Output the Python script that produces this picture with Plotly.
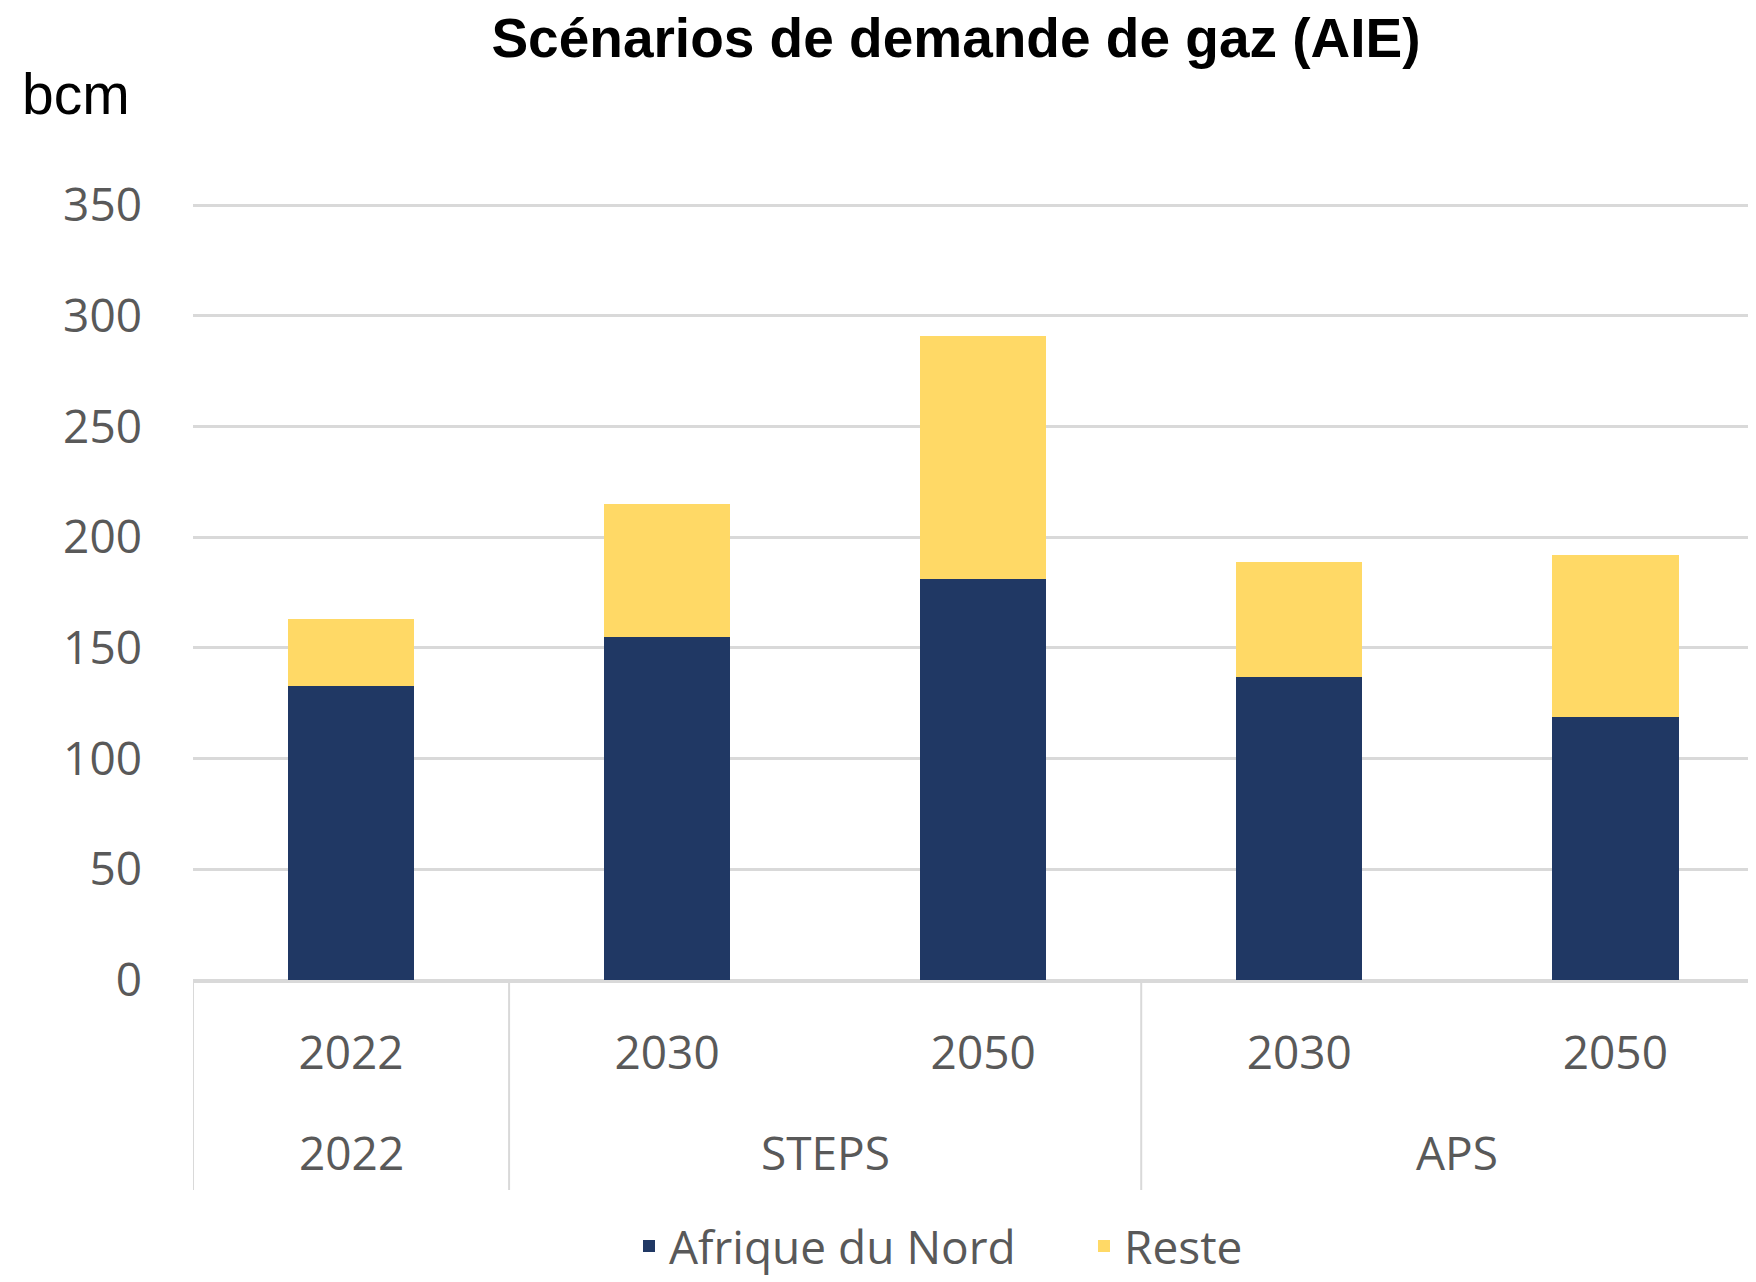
import plotly.graph_objects as go

# Data
years = ["2022", "2030", "2050", "2030", "2050"]
scenarios = ["2022", "STEPS", "APS"]
scenario_centers = [0, 1.5, 3.5]
scenario_bounds = [-0.5, 0.5, 2.5]
afrique_du_nord = [133, 155, 181, 137, 119]
reste = [30, 60, 110, 52, 73]
y_ticks = [0, 50, 100, 150, 200, 250, 300, 350]

x_pos = list(range(len(years)))

NAVY = "#203864"
GOLD = "#FFD966"
GRID = "#D9D9D9"
TXT = "#595959"
TICKFONT = dict(family="Open Sans", size=46, color=TXT)

fig = go.Figure()
fig.add_trace(go.Bar(x=x_pos, y=afrique_du_nord, name="Afrique du Nord",
                     marker=dict(color=NAVY, line=dict(width=0)), width=0.4))
fig.add_trace(go.Bar(x=x_pos, y=reste, name="Reste",
                     marker=dict(color=GOLD, line=dict(width=0)), width=0.4))

# page has an 8px body margin: figure spans page pixels 8..1756 x 8..1282
OFF = 8
W, H = 1756 - OFF, 1282 - OFF
L, R, T, B = 193 - OFF, 0, 203 - OFF, 302
plot_h = H - T - B
plot_w = W - L - R


def py(page_y):
    return (980 - page_y) / plot_h


def px(page_x):
    return (page_x - 193) / plot_w


shapes = []
for xb in scenario_bounds:
    shapes.append(dict(type="line", xref="x", yref="paper",
                       x0=xb, x1=xb, y0=0, y1=py(1190),
                       line=dict(color=GRID, width=2)))

annotations = []
for name, xc in zip(scenarios, scenario_centers):
    annotations.append(dict(text=name, xref="x", yref="paper", x=xc,
                            y=py(1152), xanchor="center",
                            yanchor="middle", showarrow=False, font=TICKFONT))
annotations.append(dict(text="bcm", xref="paper", yref="paper",
                        x=px(20), y=py(94),
                        xanchor="left", yanchor="middle", showarrow=False,
                        font=dict(family="Liberation Sans", size=57, color="#000000")))

fig.update_layout(
    width=W, height=H,
    margin=dict(l=L, r=R, t=T, b=B, autoexpand=False),
    paper_bgcolor="white", plot_bgcolor="white",
    barmode="stack",
    title=dict(text="<b>Scénarios de demande de gaz (AIE)</b>",
               x=(956 - OFF) / W, xanchor="center", xref="container",
               y=1 - 10 / H, yanchor="top", yref="container",
               font=dict(family="Liberation Sans", size=55, color="#000000")),
    xaxis=dict(tickvals=x_pos, ticktext=years, range=[-0.5, 4.445],
               showgrid=False, zeroline=False, showline=True,
               linecolor=GRID, linewidth=2.5, ticks="",
               tickfont=TICKFONT, ticklabelstandoff=31, automargin=False),
    yaxis=dict(range=[0, 351], tickvals=y_ticks, showgrid=True,
               gridcolor=GRID, gridwidth=2.5, zeroline=True,
               zerolinecolor=GRID, zerolinewidth=2.5,
               tickfont=TICKFONT, ticklabelstandoff=50, automargin=False),
    legend=dict(orientation="h", x=px(629), xanchor="left",
                y=py(1246), yanchor="middle",
                entrywidth=410, entrywidthmode="pixels",
                font=TICKFONT, traceorder="normal"),
    shapes=shapes,
    annotations=annotations,
    showlegend=True,
)

fig.write_html("out.html")
